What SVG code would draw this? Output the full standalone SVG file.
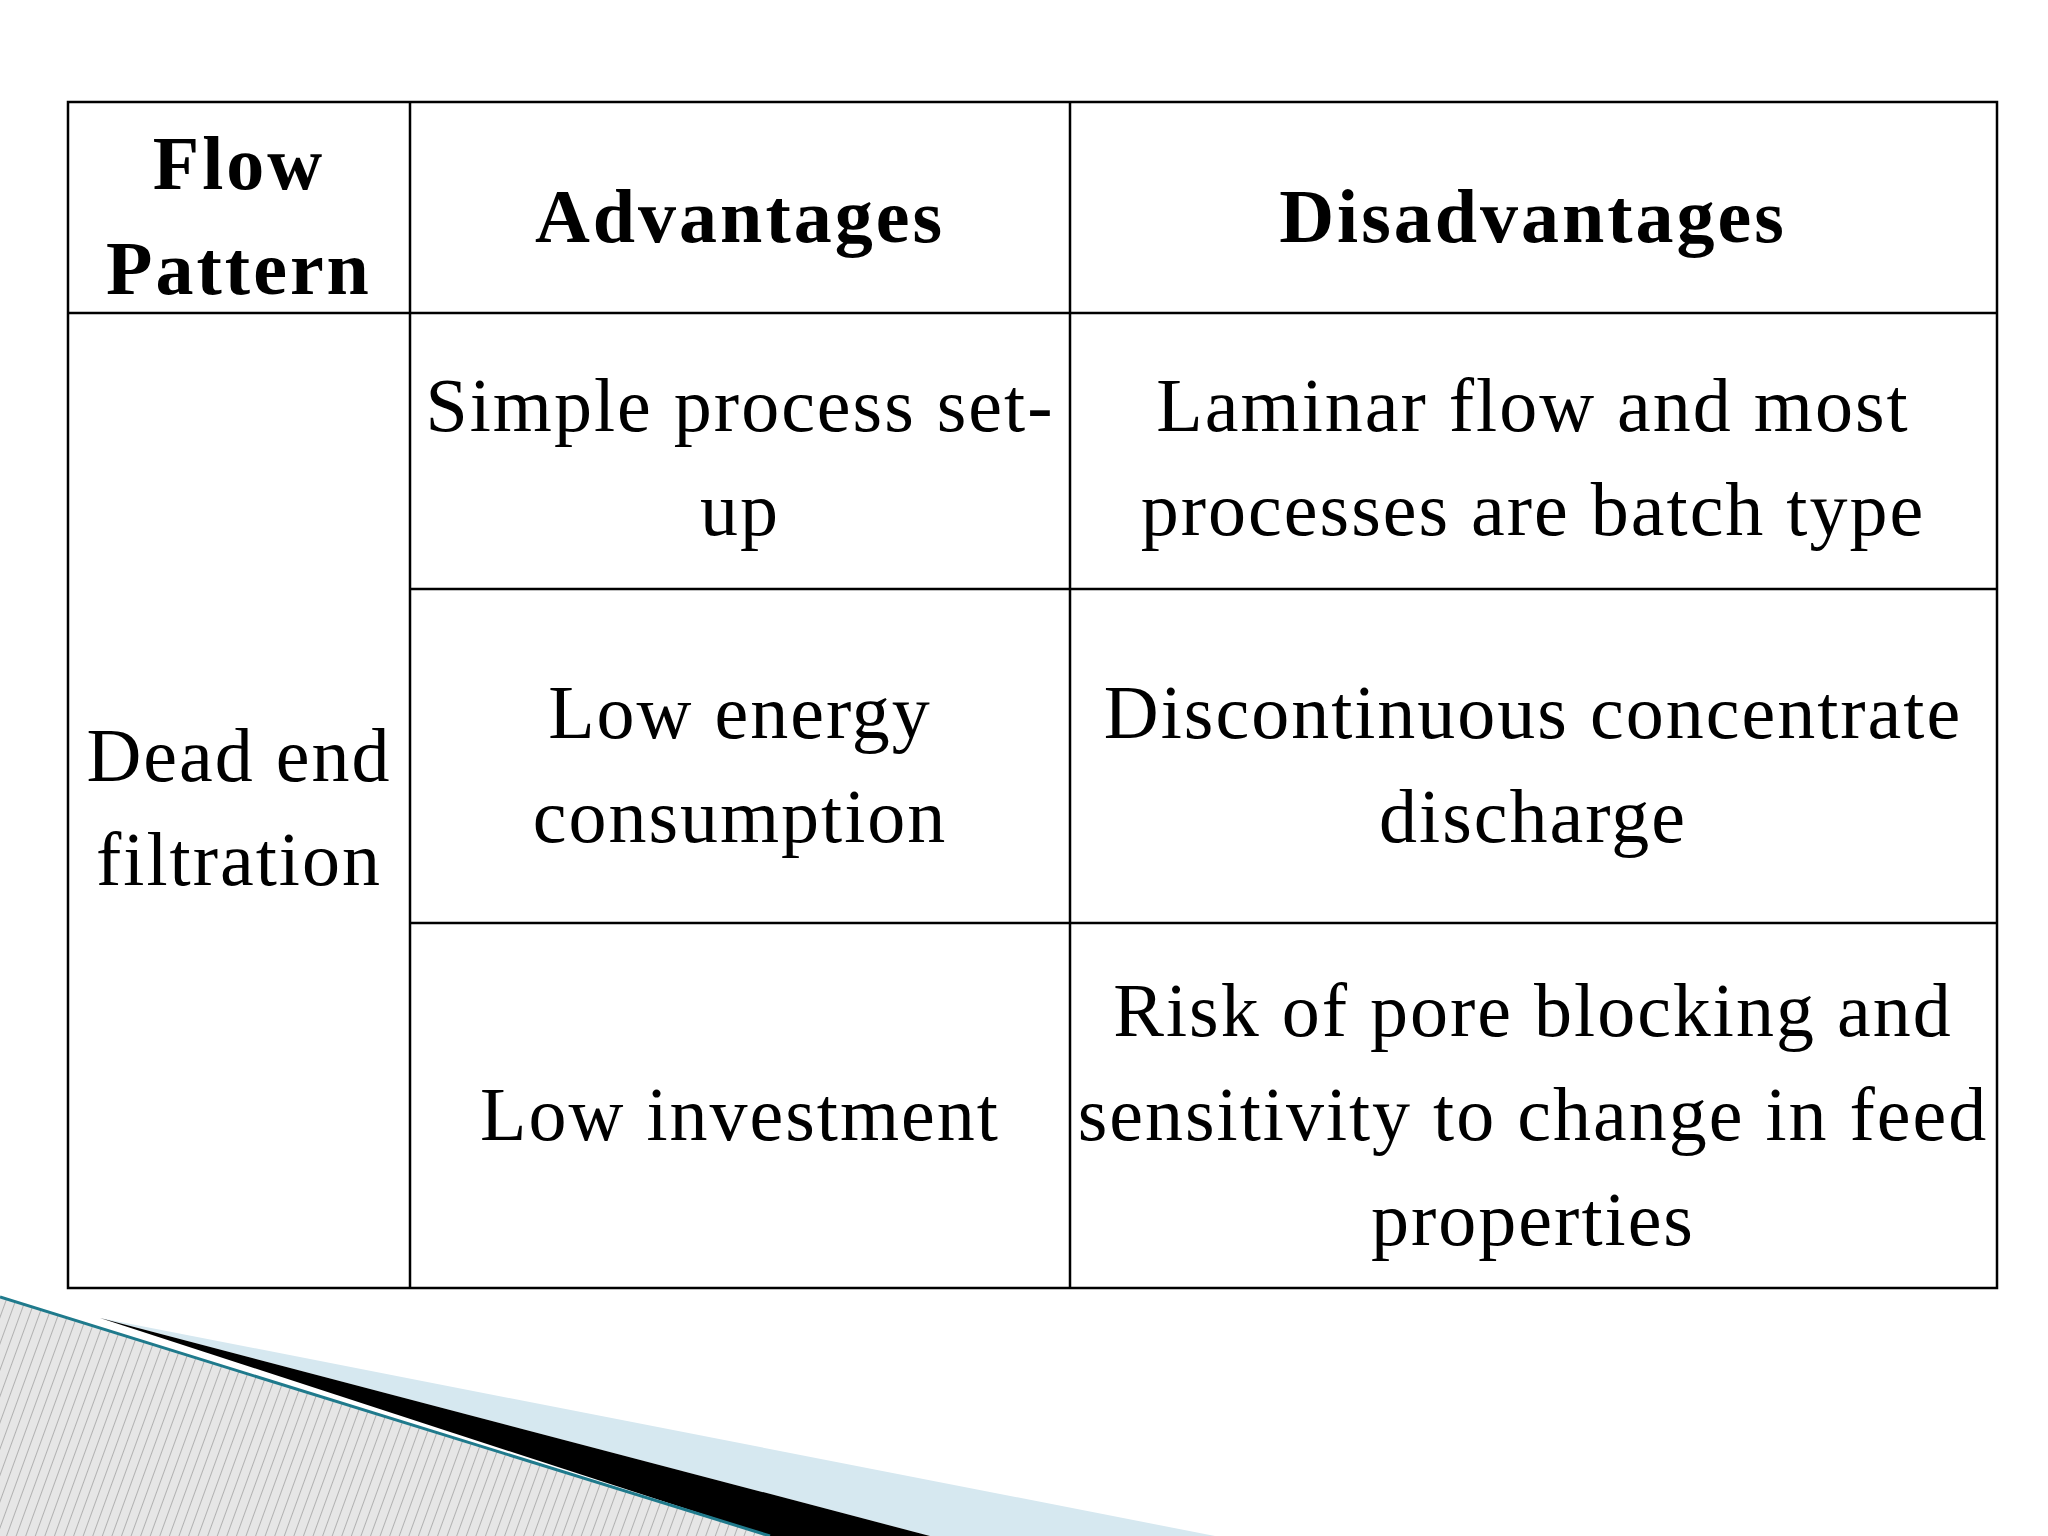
<svg xmlns="http://www.w3.org/2000/svg" width="2048" height="1536" viewBox="0 0 2048 1536">
<style>
.c{font-family:"Liberation Serif","DejaVu Serif",serif;font-size:76px;letter-spacing:2px;fill:#000;text-anchor:middle}
.b{font-weight:bold;letter-spacing:3px}
.g{stroke:#000;stroke-width:2.5;fill:none}
</style>
<defs>
<pattern id="h" width="9" height="9" patternUnits="userSpaceOnUse" patternTransform="rotate(20)">
<rect width="9" height="9" fill="#e6e6e6"/><line x1="0" y1="0" x2="0" y2="9" stroke="#a0a0a0" stroke-width="1.5"/>
</pattern>
</defs>
<rect width="2048" height="1536" fill="#fff"/>
<g id="decoration">
<polygon points="100,1318 1215,1536 930,1536" fill="#d6e8f0"/>
<polygon points="100,1318 930,1536 770,1536" fill="#000"/>
<polygon points="0,1297 770,1536 0,1536" fill="url(#h)"/>
<line x1="0" y1="1297" x2="770" y2="1536" stroke="#1f7a8c" stroke-width="3"/>
</g>
<g id="table">
<rect class="g" x="68" y="102" width="1929" height="1186"/>
<line class="g" x1="410" y1="102" x2="410" y2="1288"/>
<line class="g" x1="1070" y1="102" x2="1070" y2="1288"/>
<line class="g" x1="68" y1="313" x2="1997" y2="313"/>
<line class="g" x1="410" y1="589" x2="1997" y2="589"/>
<line class="g" x1="410" y1="923" x2="1997" y2="923"/>
</g>
<g id="header">
<text class="c b" x="239" y="189">Flow</text>
<text class="c b" x="239" y="294">Pattern</text>
<text class="c b" x="740" y="242">Advantages</text>
<text class="c b" x="1533" y="242">Disadvantages</text>
</g>
<g id="col0"><text class="c" x="239" y="781">Dead end</text><text class="c" x="239" y="885">filtration</text></g>
<g id="row1">
<text class="c" x="740" y="431">Simple process set-</text><text class="c" x="740" y="535">up</text>
<text class="c" x="1533" y="431">Laminar flow and most</text><text class="c" x="1533" y="535">processes are batch type</text>
</g>
<g id="row2">
<text class="c" x="740" y="738">Low energy</text><text class="c" x="740" y="842">consumption</text>
<text class="c" x="1533" y="738">Discontinuous concentrate</text><text class="c" x="1533" y="842">discharge</text>
</g>
<g id="row3">
<text class="c" x="740" y="1140">Low investment</text>
<text class="c" x="1533" y="1036">Risk of pore blocking and</text>
<text class="c" x="1533" y="1140">sensitivity to change in feed</text>
<text class="c" x="1533" y="1245">properties</text>
</g>
</svg>
